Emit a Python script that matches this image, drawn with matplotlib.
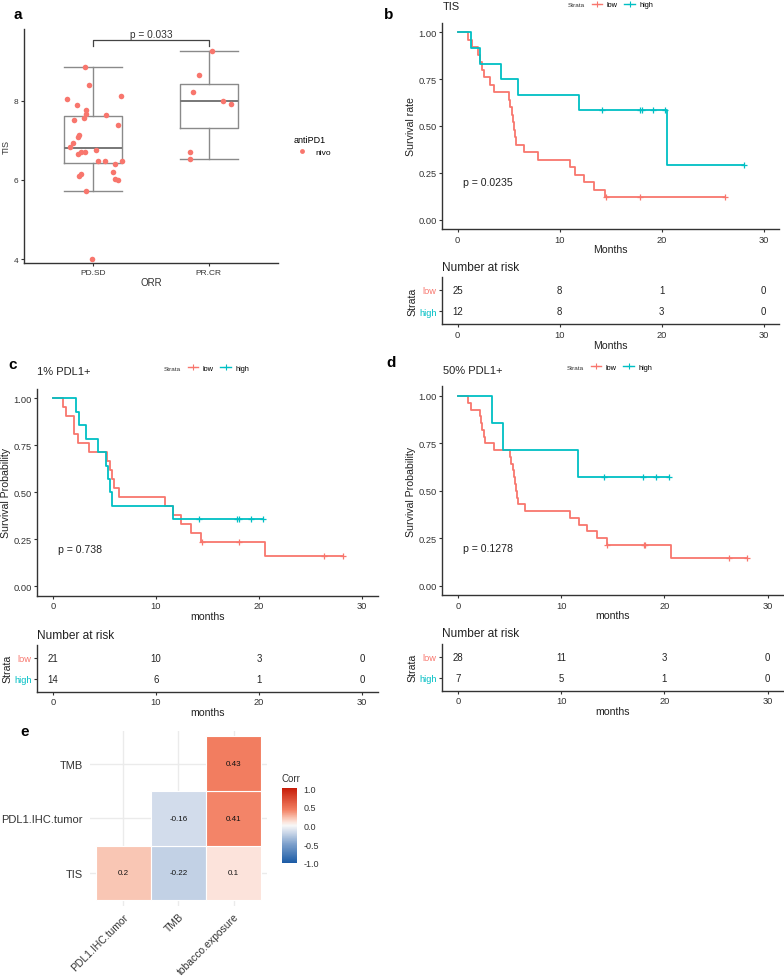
import numpy as np
import matplotlib
matplotlib.use('Agg')
import matplotlib.pyplot as plt
from matplotlib.lines import Line2D
from matplotlib.patches import Rectangle
from matplotlib.colors import LinearSegmentedColormap, Normalize

plt.rcParams['font.family'] = ['Liberation Sans', 'DejaVu Sans']

# ---- panel a: TIS by response ----
groups = ['PD.SD', 'PR.CR']
pd_x = [0.928, 0.963, 0.776, 1.236, 0.856, 0.934, 0.940, 0.922, 0.834, 1.109,
        1.213, 0.874, 0.871, 0.822, 0.799, 0.868, 0.891, 0.928, 1.023, 1.043,
        1.103, 1.184, 1.247, 1.172, 0.894, 0.877, 1.184, 1.216, 0.940, 0.986]
pd_y = [8.86, 8.41, 8.05, 8.12, 7.90, 7.78, 7.68, 7.57, 7.52, 7.64,
        7.39, 7.14, 7.09, 6.94, 6.83, 6.66, 6.72, 6.72, 6.77, 6.47,
        6.47, 6.41, 6.47, 6.21, 6.16, 6.09, 6.02, 6.00, 5.71, 4.00]
pr_x = [2.029, 1.920, 1.862, 2.121, 2.190, 1.836, 1.836]
pr_y = [9.27, 8.66, 8.23, 7.99, 7.93, 6.70, 6.54]
box_low = [5.71, 6.54]
box_q1 = [6.43, 7.32]
box_med = [6.80, 7.99]
box_q3 = [7.61, 8.44]
box_high = [8.87, 9.27]
p_orr = 'p = 0.033'

# ---- survival panels: event / censor times (months) ----
b_low_dead = [0.98, 1.37, 2.0, 2.18, 2.4, 2.6, 3.22, 3.55, 5.01, 5.18, 5.31,
              5.44, 5.53, 5.60, 5.70, 6.48, 7.88, 10.97, 11.49, 12.40, 13.38, 14.45]
b_low_cens = [14.5, 17.9, 26.2]
b_high_dead = [1.30, 2.18, 4.30, 5.92, 11.85, 20.5]
b_high_cens = [14.13, 17.87, 18.1, 19.17, 20.35, 28.06]

c_low_dead = [0.97, 1.26, 2.1, 2.1, 2.43, 3.53, 5.24, 5.57, 5.73, 5.89, 6.44,
              10.9, 11.7, 12.46, 13.4, 14.4, 20.6]
c_low_cens = [14.5, 18.03, 26.3, 28.1]
c_high_dead = [2.27, 2.56, 3.24, 4.34, 5.15, 5.4, 5.57, 5.73, 11.65]
c_high_cens = [14.17, 17.9, 18.05, 19.2, 20.4]

d_low_dead = [0.97, 1.29, 2.16, 2.22, 2.35, 2.55, 2.6, 3.52, 5.1, 5.2, 5.35, 5.48,
              5.55, 5.65, 5.75, 5.85, 6.52, 10.9, 11.75, 12.5, 13.46, 14.47, 20.67]
d_low_cens = [14.5, 18.0, 18.1, 26.25, 28.06]
d_high_dead = [3.29, 4.36, 11.69]
d_high_cens = [14.14, 17.92, 19.21, 20.5]

risk_times = [0, 10, 20, 30]
b_risk_low = [25, 8, 1, 0]
b_risk_high = [12, 8, 3, 0]
c_risk_low = [21, 10, 3, 0]
c_risk_high = [14, 6, 1, 0]
d_risk_low = [28, 11, 3, 0]
d_risk_high = [7, 5, 1, 0]

# ---- panel e: correlations ----
corr_cols = ['PDL1.IHC.tumor', 'TMB', 'tobacco.exposure']
corr_rows = ['TIS', 'PDL1.IHC.tumor', 'TMB']
corr_vals = [[0.2, -0.22, 0.1],
             [np.nan, -0.16, 0.41],
             [np.nan, np.nan, 0.43]]

RED = '#F8766D'
TEAL = '#00BFC4'
INK = '#333333'

W, H = 784, 979
fig = plt.figure(figsize=(W / 100, H / 100), dpi=100)


def px(x0, y0, x1, y1):
    return fig.add_axes([x0 / W, 1 - y1 / H, (x1 - x0) / W, (y1 - y0) / H])


def ftext(x, y, s, **kw):
    fig.text(x / W, 1 - y / H, s, **kw)


def classic(ax, size):
    for s in ['top', 'right']:
        ax.spines[s].set_visible(False)
    for s in ['left', 'bottom']:
        ax.spines[s].set_color(INK)
        ax.spines[s].set_linewidth(1.0)
    ax.tick_params(length=2.5, width=0.8, color=INK, labelsize=size,
                   labelcolor=INK, pad=1.5)


def km(dead, cens):
    allt = dead + cens
    xs, ys, s = [0.0], [1.0], 1.0
    for t in sorted(set(dead)):
        n = sum(1 for v in allt if v >= t)
        s *= 1 - dead.count(t) / n
        xs.append(t)
        ys.append(s)
    xs.append(max(allt))
    ys.append(ys[-1])
    cy = [ys[np.searchsorted(xs[:-1], c, side='right') - 1] for c in cens]
    return xs, ys, cy


# ================= panel a =================
ax = px(24, 30, 278, 264)
stats = [dict(whislo=box_low[i], q1=box_q1[i], med=box_med[i], q3=box_q3[i],
              whishi=box_high[i], label=groups[i]) for i in range(2)]
gray = '#8a8a8a'
ax.bxp(stats, positions=[1, 2], widths=0.5, showfliers=False, capwidths=0.5,
       boxprops=dict(color=gray, lw=1.0), whiskerprops=dict(color=gray, lw=1.0),
       capprops=dict(color=gray, lw=1.0), medianprops=dict(color='#777777', lw=1.4))
ax.scatter(pd_x, pd_y, s=16, color=RED, lw=0, zorder=3)
ax.scatter(pr_x, pr_y, s=16, color=RED, lw=0, zorder=3)
ax.plot([1, 1, 2, 2], [9.38, 9.54, 9.54, 9.38], color='#444444', lw=0.9)
ax.text(1.5, 9.57, p_orr, ha='center', va='bottom', fontsize=7.3, color=INK)
ax.set_xlim(0.4, 2.6)
ax.set_ylim(3.9, 9.82)
ax.set_yticks([4, 6, 8])
ax.set_xticks([1, 2])
ax.set_xticklabels(groups)
classic(ax, 6)
ax.set_xlabel('ORR', fontsize=7, color=INK, labelpad=1)
ax.set_ylabel('TIS', fontsize=6.5, color=INK, labelpad=2)
leg = ax.legend([Line2D([], [], ls='none', marker='o', ms=3.5, color=RED, mew=0)],
                ['nivo'], title='antiPD1', loc='upper left', frameon=False,
                bbox_to_anchor=(294 / W, 1 - 136 / H), bbox_transform=fig.transFigure,
                fontsize=6, title_fontsize=6.5, handletextpad=0.6, borderpad=0,
                borderaxespad=0)
leg._legend_box.align = 'left'
ftext(13, 15, 'a', fontsize=11, fontweight='bold', va='center')


# ================= survival panels =================
def surv_panel(box_main, box_risk, title, title_xy, lbl, lbl_xy, leg_xy,
               dead_l, cens_l, dead_h, cens_h, ylab, xlab, pval,
               risk_l, risk_h, risk_title_y):
    ax = px(*box_main)
    for dead, cens, c in [(dead_l, cens_l, RED), (dead_h, cens_h, TEAL)]:
        xs, ys, cy = km(dead, cens)
        ax.step(xs, ys, where='post', color=c, lw=1.3)
        ax.plot(cens, cy, ls='none', marker='+', ms=5, mew=0.9, color=c)
    ax.set_xlim(-1.5, 31.5)
    ax.set_ylim(-0.05, 1.05)
    ax.set_xticks(risk_times)
    ax.set_yticks([0, 0.25, 0.5, 0.75, 1.0])
    ax.set_yticklabels(['0.00', '0.25', '0.50', '0.75', '1.00'])
    classic(ax, 6.7)
    ax.set_xlabel(xlab, fontsize=7.6, color='#222222', labelpad=0.5)
    ax.set_ylabel(ylab, fontsize=7.6, color='#222222', labelpad=2)
    ax.text(0.55, 0.2, pval, fontsize=7.6, color='#222222', va='center')
    ftext(title_xy[0], title_xy[1], title, fontsize=8, color='#222222', va='center')
    ftext(lbl_xy[0], lbl_xy[1], lbl, fontsize=11, fontweight='bold', va='center')
    ftext(leg_xy[0], leg_xy[1], 'Strata', fontsize=4.6, color=INK, va='center')
    handles = [Line2D([], [], color=c, lw=1.0, marker='+', ms=4, mew=0.8)
               for c in (RED, TEAL)]
    ax.legend(handles, ['low', 'high'], ncol=2, loc='center left', frameon=False,
              bbox_to_anchor=((leg_xy[0] + 24) / W, 1 - leg_xy[1] / H),
              bbox_transform=fig.transFigure, fontsize=5.3, handlelength=1.4,
              handletextpad=0.6, columnspacing=0.9, borderpad=0, borderaxespad=0)

    rk = px(*box_risk)
    for i, t in enumerate(risk_times):
        rk.text(t, 2, str(risk_l[i]), ha='center', va='center', fontsize=6.9, color='#222222')
        rk.text(t, 1, str(risk_h[i]), ha='center', va='center', fontsize=6.9, color='#222222')
    rk.set_xlim(-1.5, 31.5)
    rk.set_ylim(0.4, 2.6)
    rk.set_xticks(risk_times)
    rk.set_yticks([1, 2])
    rk.set_yticklabels(['high', 'low'])
    classic(rk, 6.7)
    for lab, c in zip(rk.get_yticklabels(), (TEAL, RED)):
        lab.set_color(c)
    rk.set_xlabel(xlab, fontsize=7.6, color='#222222', labelpad=0.5)
    rk.set_ylabel('Strata', fontsize=7.6, color='#222222', labelpad=1)
    ftext(box_risk[0], risk_title_y, 'Number at risk', fontsize=8.6,
          color='#222222', va='center')


surv_panel((442.3, 24, 779, 230), (442.3, 278, 779, 325.3), 'TIS', (443, 7),
           'b', (384, 15), (568, 5.5), b_low_dead, b_low_cens, b_high_dead,
           b_high_cens, 'Survival rate', 'Months', 'p = 0.0235',
           b_risk_low, b_risk_high, 268.3)
surv_panel((37.3, 390, 377.7, 596.7), (37.3, 646, 377.7, 692.7), '1% PDL1+',
           (36.7, 372), 'c', (8, 365), (164, 369.3), c_low_dead, c_low_cens,
           c_high_dead, c_high_cens, 'Survival Probability', 'months', 'p = 0.738',
           c_risk_low, c_risk_high, 636)
surv_panel((442.3, 387.5, 783, 596), (442.3, 645, 783, 691.7), '50% PDL1+',
           (443.3, 371), 'd', (386, 363), (567, 368), d_low_dead, d_low_cens,
           d_high_dead, d_high_cens, 'Survival Probability', 'months', 'p = 0.1278',
           d_risk_low, d_risk_high, 634)

# ================= panel e =================
cmap = LinearSegmentedColormap.from_list('corr', [
    (0.0, '#1B5BA5'), (0.25, '#7C9FCB'), (0.42, '#D2DCEB'), (0.5, '#F7F7F7'),
    (0.55, '#FCE3DA'), (0.6, '#F9C6B4'), (0.715, '#F27E61'), (1.0, '#C71E0A')])
norm = Normalize(-1, 1)
ax = px(90, 731.7, 266.7, 906.7)
for r in range(3):
    for c in range(3):
        v = corr_vals[r][c]
        if np.isnan(v):
            continue
        ax.add_patch(Rectangle((c + 0.5, r + 0.5), 1, 1, facecolor=cmap(norm(v)),
                               edgecolor='white', lw=0.8, zorder=2))
        ax.text(c + 1, r + 1, f'{v:g}', ha='center', va='center',
                fontsize=5.8, color='#111111', zorder=3)
ax.set_xlim(0.4, 3.6)
ax.set_ylim(0.4, 3.6)
ax.set_xticks([1, 2, 3])
ax.set_yticks([1, 2, 3])
ax.set_xticklabels(corr_cols, rotation=45, ha='right', va='top',
                   rotation_mode='anchor', fontsize=7.5)
ax.set_yticklabels(corr_rows, fontsize=8)
ax.tick_params(length=0, labelcolor=INK, pad=5)
ax.tick_params(axis='x', pad=4)
ax.grid(color='#EBEBEB', lw=1.0, zorder=0)
ax.set_axisbelow(True)
for s in ax.spines.values():
    s.set_visible(False)

cax = px(281.7, 789.3, 296.7, 864)
cb = fig.colorbar(plt.cm.ScalarMappable(norm=norm, cmap=cmap), cax=cax)
cb.outline.set_visible(False)
cb.set_ticks([-1, -0.5, 0, 0.5, 1])
cb.set_ticklabels(['-1.0', '-0.5', '0.0', '0.5', '1.0'])
cax.tick_params(length=3, color='white', width=0.6, labelsize=6.5, labelcolor=INK, pad=2)
ftext(281.7, 779.3, 'Corr', fontsize=7, color=INK, va='center')
ftext(20, 732, 'e', fontsize=11, fontweight='bold', va='center')

fig.savefig('out.png', dpi=100)
